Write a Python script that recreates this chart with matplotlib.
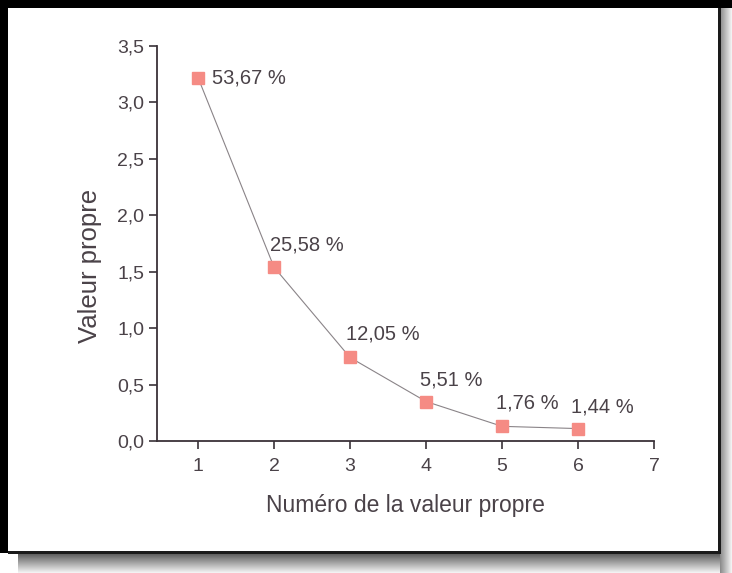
import matplotlib
matplotlib.use("Agg")
import matplotlib.pyplot as plt
from matplotlib.patches import Rectangle

plt.rcParams['font.family'] = ['Liberation Sans', 'DejaVu Sans']

components = [1, 2, 3, 4, 5, 6]
eigenvalues = [3.22, 1.54, 0.74, 0.35, 0.13, 0.11]
pct_labels = ["53,67 %", "25,58 %", "12,05 %", "5,51 %", "1,76 %", "1,44 %"]
yticks = [0.0, 0.5, 1.0, 1.5, 2.0, 2.5, 3.0, 3.5]
ytick_labels = ["0,0", "0,5", "1,0", "1,5", "2,0", "2,5", "3,0", "3,5"]
xticks = [1, 2, 3, 4, 5, 6, 7]

W, H = 732, 573
fig = plt.figure(figsize=(W / 100, H / 100), dpi=100)
fig.patch.set_facecolor('white')


def rect(x0, y0, x1, y1, color, z):
    """Rectangle in pixel coords from top-left origin."""
    fig.patches.append(Rectangle((x0 / W, (H - y1) / H), (x1 - x0) / W, (y1 - y0) / H,
                                 transform=fig.transFigure, facecolor=color,
                                 edgecolor='none', zorder=z))


# shadow at the bottom (gradient)
n = 20
for i in range(n):
    g = 0.35 + 0.6 * (i / (n - 1))
    rect(18, 553 + i, W, 554 + i, (g, g, g), -5)
# shadow on the right (gradient)
for i in range(12):
    g = 0.55 + 0.4 * (i / 11)
    rect(720 + i, 8, 721 + i, 573, (g, g, g), -4)
# black scan border top/left
rect(0, 0, W, 8, 'black', -3)
rect(0, 0, 8, 553, 'black', -3)
# dark page outline right/bottom
rect(8, 551, 721, 554, '#1a1a1a', -3)
rect(718, 8, 721, 554, '#1a1a1a', -3)
# white page
rect(8, 8, 718, 551, 'white', -2)

txt = '#4a4248'
ax = fig.add_axes([157 / W, (H - 441) / H, (654 - 157) / W, (441 - 46) / H])
ax.set_facecolor('none')
ax.plot(components, eigenvalues, color='#8a8488', lw=0.8, zorder=2)
ax.plot(components, eigenvalues, ls='none', marker='s', ms=9,
        color='#f58b84', mec='#f58b84', zorder=3)

offsets = [(10, 0), (-3, 9), (-3, 10), (-4, 9), (-4, 10), (-5, 9)]
vas = ['center', 'bottom', 'bottom', 'bottom', 'bottom', 'bottom']
for x, y, lab, off, va in zip(components, eigenvalues, pct_labels, offsets, vas):
    ax.annotate(lab, (x, y), xytext=off, textcoords='offset points',
                ha='left', va=va, fontsize=14.5, color=txt)

ax.set_xlim(0.46, 7)
ax.set_ylim(0, 3.5)
ax.set_xticks(xticks)
ax.set_yticks(yticks)
ax.set_yticklabels(ytick_labels)
for s in ['top', 'right']:
    ax.spines[s].set_visible(False)
for s in ['left', 'bottom']:
    ax.spines[s].set_color('#3a3238')
    ax.spines[s].set_linewidth(1.3)
ax.tick_params(direction='out', length=6, width=1.2, colors='#3a3238',
               labelsize=14, labelcolor=txt)
ax.tick_params(axis='x', pad=6)
ax.tick_params(axis='y', pad=3)
ax.set_xlabel("Numéro de la valeur propre", fontsize=16.5, color=txt, labelpad=14)
ax.set_ylabel("Valeur propre", fontsize=18.5, color=txt)
ax.yaxis.set_label_coords(-0.11, 0.443)

fig.savefig("out.png", dpi=100, facecolor=fig.get_facecolor())
